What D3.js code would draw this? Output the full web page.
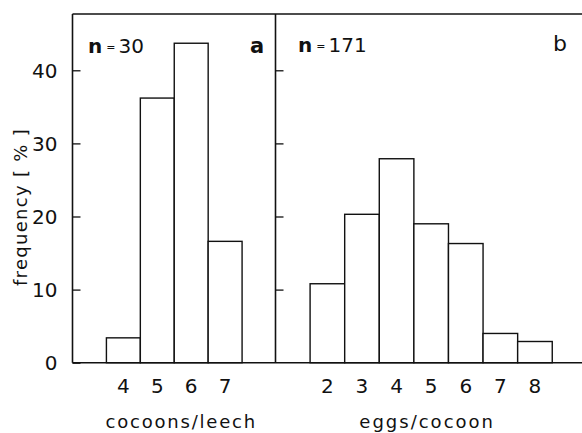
<!DOCTYPE html>
<html><head><meta charset="utf-8">
<script src="https://cdn.jsdelivr.net/npm/d3@7"></script>
<style>
body{margin:0;background:#fff;}
svg{display:block;font-family:"DejaVu Sans",sans-serif;}
</style></head>
<body>
<script>
// Data
const cocoonsCats = [4, 5, 6, 7];
const cocoonsFreq = [3.4, 36.2, 43.7, 16.6];
const eggsCats = [2, 3, 4, 5, 6, 7, 8];
const eggsFreq = [10.8, 20.3, 27.9, 19.0, 16.3, 4.0, 2.9];
const yTicks = [0, 10, 20, 30, 40];
const panelA = {n: "30", letter: "a", title: "cocoons/leech"};
const panelB = {n: "171", letter: "b", title: "eggs/cocoon"};

const W = 582, H = 433;
const svg = d3.select("body").append("svg").attr("width", W).attr("height", H);
const ink = "#111";

const y = d3.scaleLinear().domain([0, 47.7]).range([362.7, 14]);
const xA = d3.scaleLinear().domain([2.5, 8.5]).range([72.5, 276]);
const xB = d3.scaleLinear().domain([0.5, 9.36]).range([275.5, 582]);

// bars
function bars(cats, vals, x) {
  svg.append("g").selectAll("rect").data(cats).join("rect")
    .attr("x", d => x(d - 0.5))
    .attr("width", d => x(d + 0.5) - x(d - 0.5))
    .attr("y", (d, i) => y(vals[i]))
    .attr("height", (d, i) => y(0) - y(vals[i]))
    .attr("fill", "#fff").attr("stroke", ink).attr("stroke-width", 1.4);
}
bars(cocoonsCats, cocoonsFreq, xA);
bars(eggsCats, eggsFreq, xB);

// frame
const frame = svg.append("g").attr("stroke", ink).attr("stroke-width", 1.6).attr("fill", "none");
frame.append("line").attr("x1", xA.range()[0]).attr("x2", W).attr("y1", y.range()[1]).attr("y2", y.range()[1]);
frame.append("line").attr("x1", xA.range()[0]).attr("x2", W).attr("y1", y(0)).attr("y2", y(0));

// y axes (ticks pointing inward)
const axA = d3.axisLeft(y).tickValues(yTicks).tickSize(-8).tickPadding(15).tickFormat(d3.format("d"));
const gA = svg.append("g").attr("transform", `translate(${xA.range()[0]},0)`).call(axA);
gA.select(".domain").attr("d", `M0,${y.range()[1]}V${y(0)}`).attr("stroke", ink).attr("stroke-width", 1.6);
gA.selectAll(".tick line").attr("stroke", ink).attr("stroke-width", 1.3);
gA.selectAll(".tick text").attr("fill", ink).attr("font-size", 20).attr("font-family", "DejaVu Sans").attr("dy", "0.36em");

const axB = d3.axisLeft(y).tickValues(yTicks.filter(d => d > 0)).tickSize(-8).tickFormat("");
const gB = svg.append("g").attr("transform", `translate(${xB.range()[0]},0)`).call(axB);
gB.select(".domain").attr("d", `M0,${y.range()[1]}V${y(0)}`).attr("stroke", ink).attr("stroke-width", 1.6);
gB.selectAll(".tick line").attr("stroke", ink).attr("stroke-width", 1.3);

// x tick labels
function xLabels(cats, x) {
  svg.append("g").selectAll("text").data(cats).join("text")
    .attr("x", d => x(d)).attr("y", 393)
    .attr("text-anchor", "middle").attr("font-size", 20).attr("fill", ink)
    .text(d => d);
}
xLabels(cocoonsCats, xA);
xLabels(eggsCats, xB);

// axis titles
svg.append("text").attr("x", (xA(3.5) + xA(7.5)) / 2 + 7).attr("y", 428)
  .attr("text-anchor", "middle").attr("font-size", 18).attr("letter-spacing", 1.8).attr("fill", ink)
  .text(panelA.title);
svg.append("text").attr("x", (xB(1.5) + xB(8.5)) / 2 - 4).attr("y", 428)
  .attr("text-anchor", "middle").attr("font-size", 18).attr("letter-spacing", 2).attr("fill", ink)
  .text(panelB.title);
svg.append("text").attr("transform", "translate(27,207) rotate(-90)")
  .attr("text-anchor", "middle").attr("font-size", 18).attr("letter-spacing", 1.3).attr("fill", ink)
  .text("frequency [ % ]");

// panel annotations
function nLabel(p, x, yy) {
  const t = svg.append("text").attr("x", x).attr("y", yy).attr("font-size", 20).attr("fill", ink);
  t.append("tspan").attr("font-weight", "bold").text("n");
  t.append("tspan").attr("font-size", 11).attr("dx", 4).attr("dy", -2).text("=");
  t.append("tspan").attr("dx", 3).attr("dy", 2).text(p.n);
}
nLabel(panelA, 88, 53);
nLabel(panelB, 298, 52);
svg.append("text").attr("x", 257).attr("y", 53).attr("text-anchor", "middle").attr("font-size", 21).attr("font-weight", "bold").attr("fill", ink).text(panelA.letter);
svg.append("text").attr("x", 560).attr("y", 51).attr("text-anchor", "middle").attr("font-size", 22).attr("fill", ink).text(panelB.letter);
</script>
</body></html>
